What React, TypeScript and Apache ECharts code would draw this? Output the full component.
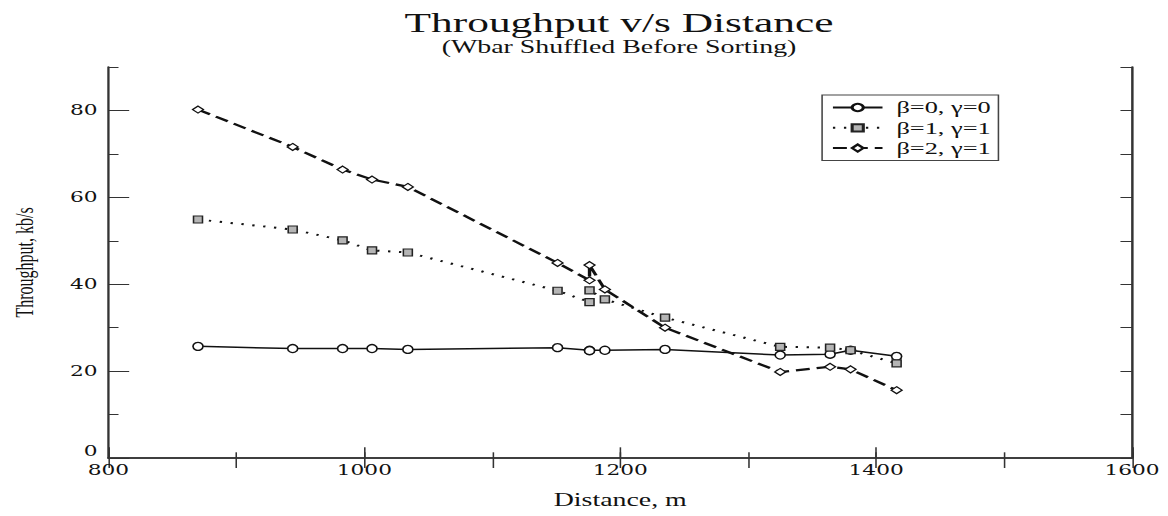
import React, { useEffect, useRef } from 'react';
import * as echarts from 'echarts';

// ---- data ----
const distances = [870, 944, 983, 1006, 1034, 1151, 1176, 1176, 1188, 1235, 1325, 1364, 1380, 1416];
const beta0gamma0 = [25.7, 25.2, 25.2, 25.2, 25.0, 25.4, 24.8, 24.7, 24.8, 25.0, 23.7, 23.9, 24.8, 23.4];
const beta1gamma1 = [54.9, 52.6, 50.1, 47.8, 47.3, 38.5, 35.9, 38.6, 36.5, 32.3, 25.6, 25.4, 24.8, 21.8];
const beta2gamma1 = [80.2, 71.6, 66.4, 64.1, 62.4, 44.9, 40.9, 44.4, 38.8, 30.0, 19.8, 21.0, 20.4, 15.6];
const seriesNames = ['β=0, γ=0', 'β=1, γ=1', 'β=2, γ=1'];
const titleText = 'Throughput v/s Distance';
const subtitleText = '(Wbar Shuffled Before Sorting)';
const xName = 'Distance, m';
const yName = 'Throughput, kb/s';

// The reference figure is stretched horizontally; draw narrow and stretch.
const W = 754;
const H = 516;
const STRETCH = 1168 / W;

const SERIF = '"Liberation Serif", "Times New Roman", serif';
const TICKFONT = '"DejaVu Serif", serif';
const INK = '#111';

function pairs(vals: number[]) {
  return distances.map((d, i) => [d, vals[i]]);
}

export default function App() {
  const ref = useRef<HTMLDivElement>(null);

  useEffect(() => {
    const chart = echarts.init(ref.current!, null, { renderer: 'svg', width: W, height: H });
    const plotCenterX = 68.4 + (W - 68.4 - 23.2) / 2;

    const option: any = {
      animation: false,
      backgroundColor: '#fff',
      grid: { left: 68.4, right: 23.2, top: 67, bottom: 58 },
      graphic: [
        {
          type: 'text',
          x: plotCenterX,
          y: 22,
          style: {
            text: titleText,
            fontSize: 28,
            fontFamily: SERIF,
            fill: INK,
            align: 'center',
            verticalAlign: 'middle',
            textAlign: 'center',
            textVerticalAlign: 'middle',
          },
        },
        {
          type: 'text',
          x: plotCenterX,
          y: 47,
          style: {
            text: subtitleText,
            fontSize: 18,
            fontFamily: SERIF,
            fill: INK,
            align: 'center',
            verticalAlign: 'middle',
            textAlign: 'center',
            textVerticalAlign: 'middle',
          },
        },
      ],
      legend: {
        data: seriesNames,
        orient: 'vertical',
        left: 530.7,
        top: 95,
        padding: [4, 5, 4, 6],
        itemWidth: 32,
        itemHeight: 9,
        itemGap: 3.3,
        borderColor: '#444',
        borderWidth: 1,
        textStyle: { fontSize: 17, fontFamily: SERIF, color: INK, lineHeight: 17, padding: [0, 0, 0, 4] },
      },
      xAxis: [
        {
          type: 'value',
          position: 'bottom',
          min: 800,
          max: 1600,
          interval: 200,
          name: xName,
          nameLocation: 'middle',
          nameGap: 33,
          nameTextStyle: { fontSize: 18, fontFamily: SERIF, color: INK },
          axisLine: { show: true, lineStyle: { color: '#333', width: 1.6 } },
          axisTick: { show: true, inside: true, length: 10.7, lineStyle: { color: '#333', width: 1 } },
          axisLabel: {
            margin: 5,
            fontSize: 14,
            fontFamily: TICKFONT,
            color: INK,
            lineHeight: 14,
            formatter: (v: number) => String(v),
          },
          splitLine: { show: false },
        },
        {
          type: 'value',
          position: 'bottom',
          min: 800,
          max: 1600,
          interval: 100,
          axisLine: { show: false },
          axisTick: { show: true, inside: true, length: 5.7, lineStyle: { color: '#333', width: 1 } },
          axisLabel: { show: false },
          splitLine: { show: false },
        },
        {
          type: 'value',
          position: 'top',
          min: 800,
          max: 1600,
          interval: 100,
          axisLine: { show: true, lineStyle: { color: '#333', width: 1.6 } },
          axisTick: { show: true, inside: true, length: 10, lineStyle: { color: '#333', width: 1 } },
          axisLabel: { show: false },
          splitLine: { show: false },
        },
      ],
      yAxis: [
        {
          type: 'value',
          position: 'left',
          min: 0,
          max: 90,
          interval: 20,
          name: yName,
          nameLocation: 'middle',
          nameGap: 46,
          nameRotate: 90,
          nameTextStyle: { fontSize: 16, fontFamily: SERIF, color: INK },
          axisLine: { show: true, lineStyle: { color: '#333', width: 1.5 } },
          axisTick: { show: true, inside: true, length: 13.4, lineStyle: { color: '#333', width: 1 } },
          axisLabel: {
            margin: 7,
            fontSize: 14,
            fontFamily: TICKFONT,
            color: INK,
            lineHeight: 14,
            showMaxLabel: false,
            verticalAlignMinLabel: 'bottom',
            formatter: (v: number) => String(v),
          },
          splitLine: { show: false },
        },
        {
          type: 'value',
          position: 'left',
          min: 0,
          max: 90,
          interval: 10,
          axisLine: { show: false },
          axisTick: { show: true, inside: true, length: 6.5, lineStyle: { color: '#333', width: 1 } },
          axisLabel: { show: false },
          splitLine: { show: false },
        },
        {
          type: 'value',
          position: 'right',
          min: 0,
          max: 90,
          interval: 10,
          axisLine: { show: true, lineStyle: { color: '#333', width: 1.6 } },
          axisTick: { show: true, inside: true, length: 7.5, lineStyle: { color: '#333', width: 1 } },
          axisLabel: { show: false },
          splitLine: { show: false },
        },
      ],
      series: [
        {
          name: seriesNames[0],
          type: 'line',
          xAxisIndex: 0,
          yAxisIndex: 0,
          data: pairs(beta0gamma0),
          symbol: 'circle',
          symbolSize: [6.5, 8],
          showAllSymbol: true,
          lineStyle: { color: INK, width: 1.5, type: 'solid' },
          itemStyle: { color: '#fff', borderColor: INK, borderWidth: 1.2 },
          z: 3,
        },
        {
          name: seriesNames[1],
          type: 'line',
          xAxisIndex: 0,
          yAxisIndex: 0,
          data: pairs(beta1gamma1),
          symbol: 'rect',
          symbolSize: [5.8, 7],
          showAllSymbol: true,
          lineStyle: { color: INK, width: 2, type: [1.5, 5.6] },
          itemStyle: { color: '#b5b5b5', borderColor: '#222', borderWidth: 1.1 },
          z: 4,
        },
        {
          name: seriesNames[2],
          type: 'line',
          xAxisIndex: 0,
          yAxisIndex: 0,
          data: pairs(beta2gamma1),
          symbol: 'diamond',
          symbolSize: [7, 7],
          showAllSymbol: true,
          lineStyle: { color: INK, width: 2.2, type: [9, 4.5] },
          itemStyle: { color: '#fff', borderColor: INK, borderWidth: 1.1 },
          z: 5,
        },
      ],
    };

    chart.setOption(option);
    return () => chart.dispose();
  }, []);

  return (
    <div
      ref={ref}
      style={{
        position: 'fixed',
        left: 0,
        top: 0,
        width: W,
        height: H,
        transform: `scaleX(${STRETCH})`,
        transformOrigin: '0 0',
        background: '#fff',
      }}
    />
  );
}
